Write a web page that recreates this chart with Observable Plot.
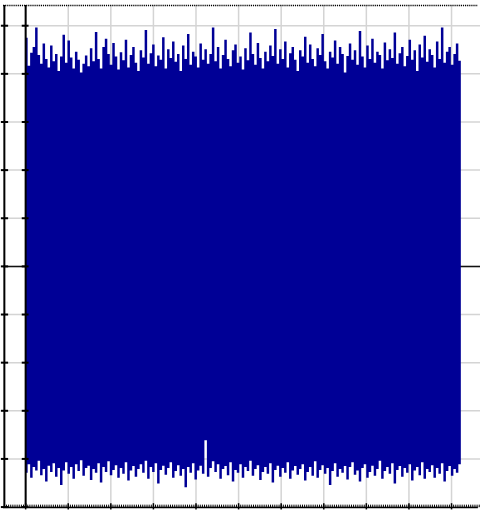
<!DOCTYPE html>
<html><head><meta charset="utf-8">
<script src="https://cdn.jsdelivr.net/npm/d3@7"></script>
<script src="https://cdn.jsdelivr.net/npm/@observablehq/plot@0.6"></script>
<style>body{margin:0;background:#fff}</style>
</head><body><div id="chart"></div>
<script>
const xTicks = [0,1,2,3,4,5,6,7,8,9,10];
const yTicks = [-5,-4,-3,-2,-1,0,1,2,3,4,5];
const signalEnd = 10.23;
const upper = [4.74,4.16,4.43,4.55,4.95,4.38,4.20,4.62,4.30,4.12,4.58,4.25,4.40,4.05,4.35,4.80,4.22,4.68,4.33,4.10,4.45,4.28,4.02,4.20,4.37,4.15,4.52,4.25,4.86,4.30,4.10,4.55,4.72,4.40,4.18,4.63,4.35,4.08,4.44,4.27,4.70,4.12,4.38,4.55,4.22,4.05,4.48,4.33,4.90,4.20,4.42,4.60,4.15,4.37,4.28,4.75,4.10,4.50,4.32,4.66,4.24,4.40,4.05,4.58,4.30,4.82,4.18,4.45,4.35,4.12,4.62,4.28,4.50,4.20,4.40,4.95,4.25,4.55,4.10,4.38,4.70,4.30,4.15,4.48,4.60,4.22,4.35,4.08,4.52,4.27,4.85,4.40,4.18,4.63,4.32,4.10,4.45,4.25,4.58,4.36,4.92,4.20,4.50,4.30,4.66,4.12,4.42,4.55,4.28,4.05,4.48,4.35,4.76,4.22,4.60,4.30,4.15,4.52,4.38,4.82,4.25,4.10,4.45,4.33,4.68,4.20,4.55,4.40,4.02,4.36,4.62,4.28,4.48,4.18,4.88,4.35,4.12,4.58,4.30,4.72,4.22,4.45,4.38,4.10,4.64,4.27,4.50,4.32,4.85,4.20,4.42,4.55,4.15,4.36,4.70,4.28,4.48,4.05,4.60,4.33,4.78,4.24,4.50,4.38,4.12,4.66,4.30,4.95,4.22,4.45,4.55,4.18,4.40,4.62,4.26];
const lower = [-4.30,-4.12,-4.40,-4.18,-4.25,-4.05,-4.35,-4.22,-4.48,-4.15,-4.28,-4.10,-4.38,-4.20,-4.55,-4.25,-4.08,-4.32,-4.18,-4.42,-4.12,-4.26,-4.04,-4.36,-4.20,-4.15,-4.45,-4.22,-4.30,-4.10,-4.50,-4.18,-4.28,-4.06,-4.35,-4.24,-4.14,-4.40,-4.20,-4.32,-4.08,-4.46,-4.25,-4.16,-4.38,-4.22,-4.12,-4.30,-4.05,-4.42,-4.18,-4.28,-4.10,-4.52,-4.24,-4.15,-4.34,-4.20,-4.08,-4.40,-4.26,-4.14,-4.36,-4.22,-4.60,-4.18,-4.30,-4.10,-4.44,-4.25,-4.15,-4.32,-3.62,-4.38,-4.20,-4.06,-4.28,-4.12,-4.42,-4.22,-4.16,-4.35,-4.08,-4.48,-4.24,-4.30,-4.12,-4.40,-4.18,-4.26,-4.05,-4.36,-4.22,-4.14,-4.45,-4.28,-4.18,-4.32,-4.10,-4.50,-4.24,-4.15,-4.38,-4.20,-4.30,-4.08,-4.42,-4.25,-4.16,-4.34,-4.22,-4.12,-4.46,-4.28,-4.18,-4.36,-4.06,-4.40,-4.24,-4.14,-4.32,-4.20,-4.55,-4.26,-4.10,-4.38,-4.22,-4.30,-4.16,-4.44,-4.18,-4.08,-4.34,-4.25,-4.48,-4.20,-4.12,-4.40,-4.28,-4.15,-4.36,-4.22,-4.05,-4.42,-4.26,-4.18,-4.32,-4.10,-4.52,-4.24,-4.16,-4.38,-4.20,-4.30,-4.12,-4.46,-4.25,-4.18,-4.35,-4.08,-4.42,-4.22,-4.28,-4.14,-4.40,-4.20,-4.32,-4.10,-4.48,-4.26,-4.16,-4.36,-4.22,-4.30,-4.12,-4.40,-4.25];

const n = Math.min(upper.length, lower.length);
const dx = signalEnd / n;
const signal = d3.range(n).map(i => ({x: i*dx, hi: upper[i], lo: lower[i]}));
signal.push({x: n*dx, hi: upper[n-1], lo: lower[n-1]});

const xMin = -0.52, xMax = 10.68, yMin = -5.03, yMax = 5.42;
const minor = d3.range(-0.5, 10.68, 0.05);
const navy = "#000096";

const chart = Plot.plot({
  width: 484, height: 514,
  marginLeft: 3, marginRight: 4, marginTop: 5, marginBottom: 6,
  x: {domain: [xMin, xMax], axis: null},
  y: {domain: [yMin, yMax], axis: null},
  marks: [
    Plot.ruleX(xTicks, {x: d => d, y1: yMin, y2: yMax, stroke: "#d4d4d4", strokeWidth: 1.5}),
    Plot.ruleY(yTicks, {y: d => d, x1: xMin, x2: xMax, stroke: "#d4d4d4", strokeWidth: 1.5}),
    Plot.ruleY([0], {x1: xMin, x2: xMax, stroke: "#111", strokeWidth: 1.5}),
    Plot.areaY(signal, {x: "x", y1: "lo", y2: "hi", fill: navy, curve: "step-after"}),
    Plot.ruleX([xMin + 0.02], {y1: yMin, y2: yMax, stroke: "#000", strokeWidth: 2}),
    Plot.ruleX([0], {y1: yMin, y2: yMax, stroke: "#000", strokeWidth: 2}),
    Plot.ruleY(yTicks, {y: d => d, x1: xMin - 0.05, x2: xMin + 0.12, stroke: "#000", strokeWidth: 2}),
    Plot.ruleY(yTicks, {y: d => d, x1: -0.08, x2: 0.08, stroke: "#000", strokeWidth: 2}),
    Plot.ruleY([yMax], {x1: xMin, x2: xMax - 0.05, stroke: "#000", strokeWidth: 1.5, strokeDasharray: "1.2,0.9"}),
    Plot.ruleY([yMin + 0.02], {x1: xMin, x2: xMax - 0.05, stroke: "#000", strokeWidth: 1.5}),
    Plot.ruleX(minor, {x: d => d, y1: yMin + 0.02, y2: yMin + 0.07, stroke: "#000", strokeWidth: 1}),
    Plot.ruleX(xTicks, {x: d => d, y1: yMin - 0.03, y2: yMin + 0.1, stroke: "#000", strokeWidth: 1.5})
  ]
});
document.getElementById("chart").appendChild(chart);
</script>
</body></html>
